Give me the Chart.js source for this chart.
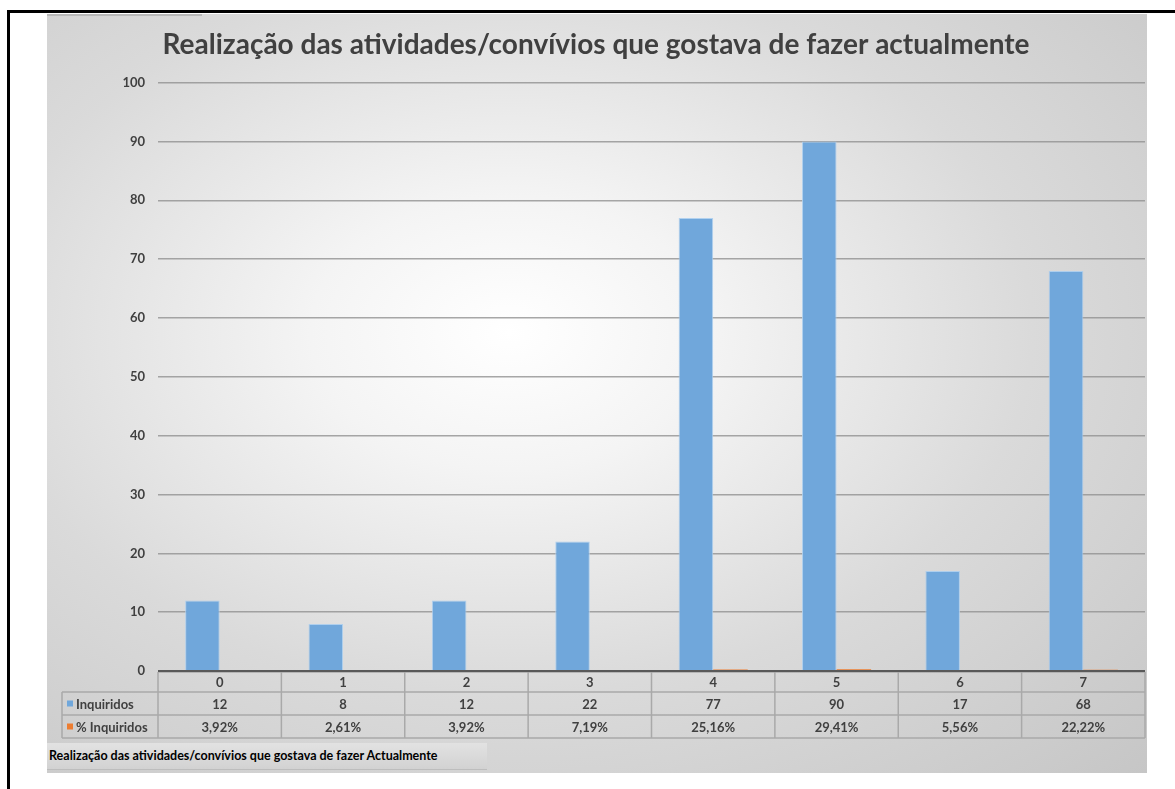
<!DOCTYPE html>
<html>
<head>
<meta charset="utf-8">
<script src="https://cdn.jsdelivr.net/npm/chart.js@4.4.0/dist/chart.umd.min.js"></script>
<style>
    body { margin: 0; background: #ffffff; font-family: Lato, sans-serif; }
    #page { position: absolute; left: 7px; top: 10px; width: 1200px; height: 800px;
            border-left: 3px solid #000; border-top: 3px solid #000; }
    #box { position: absolute; left: 47px; top: 14px; width: 1100px; height: 759px;
           background: radial-gradient(ellipse farthest-corner at 42% 42%, #ffffff 0%, #f4f4f4 22%, #dadada 58%, #c6c6c6 100%); }
    #tab { position: absolute; left: 47px; top: 14px; width: 155px; height: 2px; background: #b8b8b8; }
    #sheet { position: absolute; left: 0px; top: 729px; width: 438px; height: 26px;
             background: linear-gradient(#e2e2e2, #d2d2d2); border-bottom: 1px solid #bdbdbd;
             font: bold 12.5px Lato, sans-serif; color: #000; line-height: 26px; padding-left: 2px; }
</style>
</head>
<body>
<div id="page"></div>
<div id="box">
    <canvas id="chart" width="1100" height="759"></canvas>
    <div id="sheet">Realização das atividades/convívios que gostava de fazer Actualmente</div>
</div>
<div id="tab"></div>
<script>
var title = 'Realização das atividades/convívios que gostava de fazer actualmente';
var categories = ['0', '1', '2', '3', '4', '5', '6', '7'];
var inquiridos = [12, 8, 12, 22, 77, 90, 17, 68];
var percentInquiridos = [3.92, 2.61, 3.92, 7.19, 25.16, 29.41, 5.56, 22.22];
var seriesNames = ['Inquiridos', '% Inquiridos'];
var seriesColors = ['#70a7db', '#ed7d31'];
var yTicks = [0, 10, 20, 30, 40, 50, 60, 70, 80, 90, 100];

function fmt_pct(v)
{
    return v.toFixed(2).replace('.', ',') + '%';
}

function $each(arr, fn)
{
    for (var i = 0; i < arr.length; i++) fn(i, arr[i]);
}

// data table under the x axis, cells follow the category scale
var tablePlugin = {
    id: 'dataTable',
    afterDraw: function(chart)
    {
        var ctx = chart.ctx;
        var area = chart.chartArea;
        var xs = chart.scales.x;
        var n = categories.length;
        var step = (area.right - area.left) / n;
        var top = area.bottom + 1;
        var rows = [top, top + 20, top + 43, top + 66];
        var legLeft = 15;

        ctx.save();
        ctx.strokeStyle = '#a9a9a9';
        ctx.lineWidth = 1.5;
        ctx.beginPath();
        ctx.moveTo(area.left, rows[0]); ctx.lineTo(area.right, rows[0]);
        for (var r = 1; r < rows.length; r++) {
            ctx.moveTo(legLeft, rows[r]); ctx.lineTo(area.right, rows[r]);
        }
        for (var i = 0; i <= n; i++) {
            var x = area.left + i * step;
            ctx.moveTo(x, rows[0]); ctx.lineTo(x, rows[3]);
        }
        ctx.moveTo(legLeft, rows[1]); ctx.lineTo(legLeft, rows[3]);
        ctx.stroke();

        // axis line
        ctx.strokeStyle = '#595959';
        ctx.lineWidth = 2;
        ctx.beginPath();
        ctx.moveTo(area.left, area.bottom); ctx.lineTo(area.right, area.bottom);
        ctx.stroke();

        ctx.font = 'bold 13px Lato, sans-serif';
        ctx.fillStyle = '#404040';
        ctx.textAlign = 'center';
        ctx.textBaseline = 'middle';
        $each(categories, function(i, c) {
            var cx = xs.getPixelForValue(i);
            ctx.fillText(c, cx, (rows[0] + rows[1]) / 2 + 1);
            ctx.fillText(String(inquiridos[i]), cx, (rows[1] + rows[2]) / 2 + 1);
            ctx.fillText(fmt_pct(percentInquiridos[i]), cx, (rows[2] + rows[3]) / 2 + 1);
        });

        // legend keys
        ctx.textAlign = 'left';
        for (var s = 0; s < 2; s++) {
            var cy = (rows[s + 1] + rows[s + 2]) / 2;
            ctx.fillStyle = seriesColors[s];
            ctx.fillRect(legLeft + 5, cy - 3, 6, 6);
            ctx.fillStyle = '#404040';
            ctx.fillText(seriesNames[s], legLeft + 14, cy + 1);
        }
        ctx.restore();
    }
};

var ctx = document.getElementById('chart');
new Chart(ctx, {
    type: 'bar',
    data: {
        labels: categories,
        datasets: [{
            label: seriesNames[0],
            data: inquiridos,
            backgroundColor: seriesColors[0],
            borderColor: 'rgba(170,205,238,0.9)',
            borderWidth: 1,
            categoryPercentage: 0.56,
            barPercentage: 1
        }, {
            label: seriesNames[1],
            data: percentInquiridos.map(function(v) { return v / 100; }),
            backgroundColor: seriesColors[1],
            categoryPercentage: 0.56,
            barPercentage: 1
        }]
    },
    options: {
        responsive: false,
        animation: false,
        layout: { padding: { left: 0, right: 2, top: 0, bottom: 102 } },
        plugins: {
            legend: { display: false },
            tooltip: { enabled: false },
            title: {
                display: true,
                text: title,
                color: '#404040',
                font: { family: 'Lato', size: 28, weight: 'bold' },
                padding: { top: 14, bottom: 21 }
            }
        },
        scales: {
            x: { display: false },
            y: {
                min: 0,
                max: 100,
                afterFit: function(scale) { scale.width = 111; },
                afterBuildTicks: function(scale) {
                    scale.ticks = yTicks.map(function(v) { return { value: v }; });
                },
                border: { display: false },
                grid: { color: 'rgba(145,145,145,0.8)', lineWidth: 1.5, drawTicks: false },
                ticks: {
                    padding: 13,
                    color: '#404040',
                    font: { family: 'Lato', size: 13, weight: 'bold' }
                }
            }
        }
    },
    plugins: [tablePlugin]
});
</script>
</body>
</html>
